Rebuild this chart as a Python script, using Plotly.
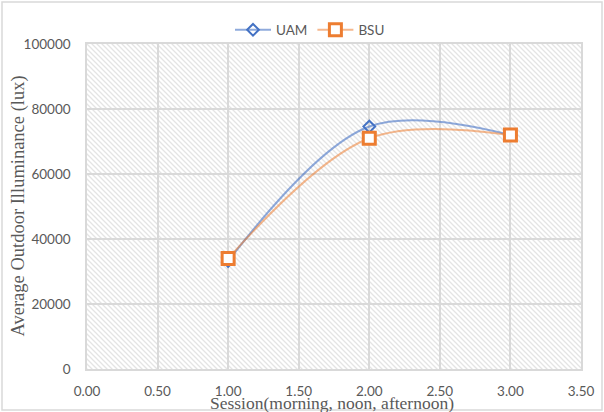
import plotly.graph_objects as go
import base64

sessions = [1, 2, 3]
uam = [33200, 74600, 72000]
bsu = [34000, 71000, 72000]
x_ticks = [0, 0.5, 1, 1.5, 2, 2.5, 3, 3.5]
y_ticks = [0, 20000, 40000, 60000, 80000, 100000]

W, H = 604, 412
ML, MR, MT, MB = 87, 23, 44, 43
PW, PH = W - ML - MR, H - MT - MB

# hatched plot-area background
svg = (f'<svg xmlns="http://www.w3.org/2000/svg" width="{PW}" height="{PH}">'
       '<defs><pattern id="p" width="5" height="5" patternUnits="userSpaceOnUse">'
       '<path d="M-1,-1 L6,6 M-1,4 L1,6 M4,-1 L6,1" stroke="#e4e4e4" stroke-width="1.3"/>'
       '</pattern></defs>'
       f'<rect width="{PW}" height="{PH}" fill="white"/>'
       f'<rect width="{PW}" height="{PH}" fill="url(#p)"/></svg>')
src = "data:image/svg+xml;base64," + base64.b64encode(svg.encode()).decode()

tick_font = dict(family="Lato, Carlito, Calibri, sans-serif", size=13.5, color="#595959")
title_font = dict(family="Liberation Serif, Times New Roman, serif", size=17.5, color="#595959")
ytitle_font = dict(family="Liberation Serif, Times New Roman, serif", size=18.5, color="#595959")

fig = go.Figure()
fig.add_trace(go.Scatter(
    x=sessions, y=uam, name="UAM", mode="lines+markers",
    line=dict(color="rgba(68,114,196,0.6)", width=2, shape="spline", smoothing=1.0),
    marker=dict(symbol="diamond-open", size=9, color="#4472C4", line=dict(width=2, color="#4472C4")),
))
fig.add_trace(go.Scatter(
    x=sessions, y=bsu, name="BSU", mode="lines+markers",
    line=dict(color="rgba(237,125,49,0.55)", width=2, shape="spline", smoothing=1.0),
    marker=dict(symbol="square", size=12, color="white", line=dict(width=3, color="#ED7D31")),
))

fig.update_layout(
    width=W, height=H,
    margin=dict(l=ML, r=MR, t=MT, b=MB, autoexpand=False),
    paper_bgcolor="white", plot_bgcolor="white",
    showlegend=True,
    legend=dict(orientation="h", x=0.5 - 24 / PW, xanchor="center", y=1.0 + 14 / PH, yanchor="middle",
                font=tick_font, bgcolor="rgba(0,0,0,0)", itemwidth=36),
    xaxis=dict(range=[0, 3.5], tickvals=x_ticks, ticktext=[f"{v:.2f}" for v in x_ticks],
               showgrid=True, gridcolor="#d9d9d9", gridwidth=1.5,
               showline=True, linecolor="#d9d9d9", linewidth=1.5, mirror=True,
               zeroline=False, tickfont=tick_font, ticks="", ticklabelstandoff=9),
    yaxis=dict(range=[0, 100000], tickvals=y_ticks, ticktext=[str(v) for v in y_ticks],
               showgrid=True, gridcolor="#d9d9d9", gridwidth=1.5,
               showline=True, linecolor="#d9d9d9", linewidth=1.5, mirror=True,
               zeroline=False, tickfont=tick_font, ticks="", ticklabelstandoff=12),
    images=[dict(source=src, xref="paper", yref="paper", x=0, y=1, sizex=1, sizey=1,
                 xanchor="left", yanchor="top", sizing="stretch", layer="below")],
    annotations=[
        dict(text="Session(morning, noon, afternoon)", xref="paper", yref="paper",
             x=0.5 - 2 / PW, y=-34 / PH, xanchor="center", yanchor="middle", showarrow=False, font=title_font),
        dict(text="Average Outdoor Illuminance (lux)", xref="paper", yref="paper",
             x=-69 / PW, y=0.5, xanchor="center", yanchor="middle", textangle=-90,
             showarrow=False, font=ytitle_font),
    ],
    shapes=[dict(type="rect", xref="paper", yref="paper",
                 x0=-(ML - 2) / PW, x1=1 + (MR - 2) / PW, y0=-(MB - 2) / PH, y1=1 + (MT - 2) / PH,
                 line=dict(color="#d9d9d9", width=1.5), fillcolor="rgba(0,0,0,0)", layer="below")],
)

fig.write_html("out.html", config={"displayModeBar": False},
               post_script="document.body.style.margin='0';document.body.style.overflow='hidden';")
